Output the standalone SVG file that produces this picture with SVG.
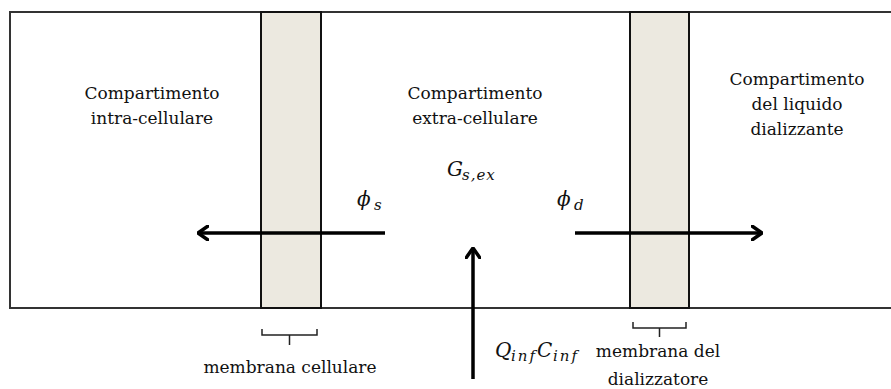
<svg xmlns="http://www.w3.org/2000/svg" width="891" height="389" viewBox="0 0 891 389">
<defs>
<style>
.t{font-family:"DejaVu Serif","Liberation Serif",serif;font-size:17px;fill:#111;text-anchor:middle}
.m{font-family:"DejaVu Serif","Liberation Serif",serif;font-style:italic;font-size:20px;fill:#111}
.sub{font-size:15px}
.box{fill:#fff;stroke:#333;stroke-width:2}
.mem{fill:#ECE9E0;stroke:#111;stroke-width:2}
.arr{stroke:#000;stroke-width:3.5;fill:none}
.brace{stroke:#222;stroke-width:1.5;fill:none}
</style>
<marker id="ah" viewBox="0 0 12 16" refX="11" refY="8" markerWidth="12" markerHeight="16" markerUnits="userSpaceOnUse" orient="auto">
<path d="M1,1 L11,8 L1,15" fill="none" stroke="#000" stroke-width="3.5" stroke-linecap="round" stroke-linejoin="round"/>
</marker>
</defs>
<rect width="891" height="389" fill="#fff"/>
<g id="outer">
<path class="box" d="M900,12 H10 V308 H900"/>
</g>
<g id="membrana-cellulare">
<rect class="mem" x="261" y="12" width="60" height="296"/>
<path class="brace" d="M262,329 V335 H317 V329 M289.5,335 V345"/>
<text class="t" x="290" y="373">membrana cellulare</text>
</g>
<g id="membrana-dializzatore">
<rect class="mem" x="630" y="12" width="59" height="296"/>
<path class="brace" d="M633,322 V328 H686 V322 M659.5,328 V337"/>
<text class="t" x="658" y="357">membrana del</text>
<text class="t" x="658" y="385">dializzatore</text>
</g>
<g id="intra">
<text class="t" x="152" y="99">Compartimento</text>
<text class="t" x="152" y="124">intra-cellulare</text>
</g>
<g id="extra">
<text class="t" x="475" y="99">Compartimento</text>
<text class="t" x="475" y="124">extra-cellulare</text>
<text class="m" x="447" y="176">G<tspan class="sub" x="462" y="180" letter-spacing="1">s,ex</tspan></text>
</g>
<g id="dializzante">
<text class="t" x="797" y="85">Compartimento</text>
<text class="t" x="797" y="110">del liquido</text>
<text class="t" x="797" y="135">dializzante</text>
</g>
<g id="connectors">
<line class="arr" x1="385" y1="233" x2="198" y2="233" marker-end="url(#ah)"/>
<line class="arr" x1="575" y1="233" x2="762" y2="233" marker-end="url(#ah)"/>
<line class="arr" x1="473" y1="379" x2="473" y2="248" marker-end="url(#ah)"/>
</g>
<g id="labels">
<text class="m" x="357" y="206">ϕ<tspan class="sub" x="374" y="210">s</tspan></text>
<text class="m" x="557" y="206">ϕ<tspan class="sub" x="574" y="210">d</tspan></text>
<text class="m" x="495" y="357">Q<tspan class="sub" x="511" y="361" letter-spacing="2">inf</tspan><tspan x="537" y="357">C</tspan><tspan class="sub" x="553" y="361" letter-spacing="2">inf</tspan></text>
</g>
</svg>
